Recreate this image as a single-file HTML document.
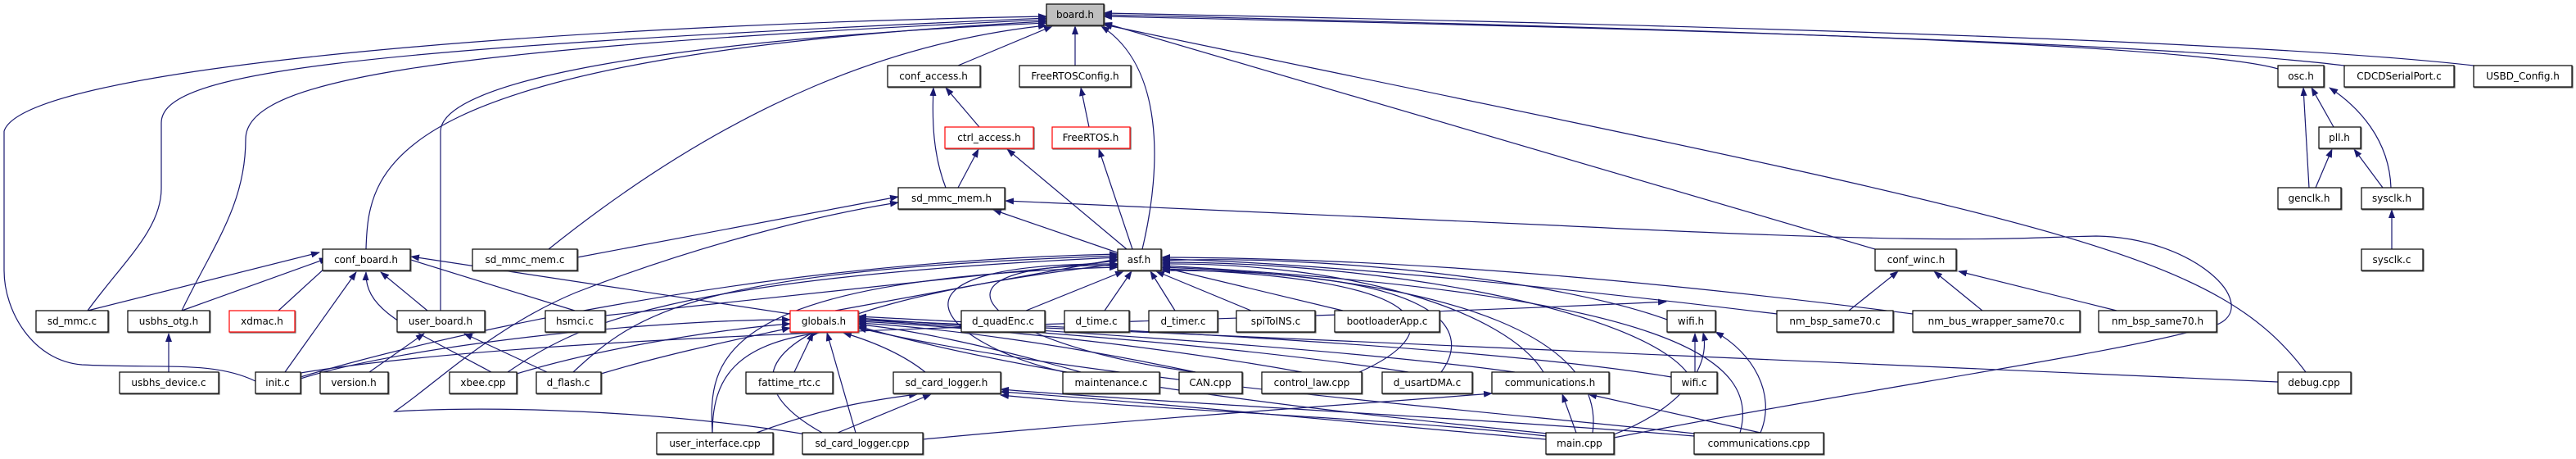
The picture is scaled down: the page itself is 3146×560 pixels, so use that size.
<!DOCTYPE html>
<html><head><meta charset="utf-8"><style>
html,body{margin:0;padding:0;background:#fff;}
svg{display:block}
text{font-family:"DejaVu Sans","Liberation Sans",sans-serif;font-size:12px;fill:#000;text-anchor:middle;dominant-baseline:central}
.e{fill:none;stroke:#191970;stroke-width:1.2}
.b{fill:#fff;stroke:#000;stroke-width:1.2}
.r{fill:#fff;stroke:#f00;stroke-width:1.2}
</style></head><body>
<svg width="3146" height="560" viewBox="0 0 3146 560" xmlns="http://www.w3.org/2000/svg">
<defs>
<marker id="a" markerWidth="11" markerHeight="8" refX="10" refY="4" orient="auto" markerUnits="userSpaceOnUse"><path d="M0,0 L11,4 L0,8 z" fill="#191970"/></marker>
<filter id="s" x="-5%" y="-10%" width="115%" height="130%"><feDropShadow dx="1" dy="1" stdDeviation="0" flood-color="#555" flood-opacity="0.9"/></filter>
</defs>
<g class="e" marker-end="url(#a)">
<path d="M312,465 C260,440 200,450 100,445 C40,440 5,380 5,330 L5,160 C30,80 700,30 1278,20"/>
<path d="M107,379 C150,320 197,280 197,230 L197,150 C197,90 400,60 1278,22"/>
<path d="M222,379 C260,300 300,250 300,170 C300,100 500,60 1278,24"/>
<path d="M447,304 C450,200 470,70 1278,26"/>
<path d="M538,379 L538,160 C540,100 800,50 1278,28"/>
<path d="M670,304 C900,120 1100,50 1278,31"/>
<path d="M1170,80 L1285,32"/>
<path d="M1313,80 L1313,32"/>
<path d="M1395,304 C1420,200 1420,80 1345,32"/>
<path d="M2782,84 C2700,60 2300,40 1348,18"/>
<path d="M2863,80 C2700,60 2300,40 1348,20"/>
<path d="M3021,80 C2800,55 2300,35 1348,16"/>
<path d="M2290,304 L1348,28"/>
<path d="M2816,454 C2700,300 2500,270 1348,30"/>
<path d="M1155,229 C1140,190 1138,150 1140,107"/>
<path d="M1170,229 L1195,182"/>
<path d="M1196,155 L1155,107"/>
<path d="M1330,155 L1320,107"/>
<path d="M1383,304 L1342,182"/>
<path d="M1376,304 L1230,182"/>
<path d="M1370,310 L1213,256"/>
<path d="M705,314 L1097,240"/>
<path d="M985,530 C800,500 600,495 482,502 C530,470 600,400 703,357 C850,300 1000,262 1097,247"/>
<path d="M1971,534 C2300,470 2600,430 2710,395 C2760,370 2680,290 2560,288 C2450,290 2400,300 1900,275 L1228,245"/>
<path d="M1020,379 L1365,316"/>
<path d="M1253,379 L1372,331"/>
<path d="M1349,379 L1382,331"/>
<path d="M1435,379 L1405,331"/>
<path d="M1528,379 L1412,331"/>
<path d="M1640,379 L1419,326"/>
<path d="M2036,390 C1900,340 1600,310 1419,318"/>
<path d="M2170,383 C1900,350 1600,320 1419,316"/>
<path d="M2336,383 C2000,340 1700,315 1419,314"/>
<path d="M2060,454 C2000,380 1700,320 1419,320"/>
<path d="M1885,454 C1840,380 1650,320 1419,322"/>
<path d="M2125,528 C2150,440 2050,360 1419,324"/>
<path d="M1945,528 C1960,420 1800,340 1419,326"/>
<path d="M1660,454 C1760,410 1780,340 1419,328"/>
<path d="M1760,454 C1800,400 1760,330 1419,330"/>
<path d="M1300,454 C1150,420 1050,320 1365,322"/>
<path d="M1460,454 C1200,420 1100,320 1365,324"/>
<path d="M739,385 L1365,318"/>
<path d="M620,454 C700,400 800,340 1365,314"/>
<path d="M700,454 C780,380 850,330 1365,312"/>
<path d="M367,460 C500,420 900,320 1365,310"/>
<path d="M870,528 C865,440 870,340 1365,326"/>
<path d="M1004,528 C900,470 880,380 1365,322"/>
<path d="M367,462 C500,420 800,390 965,390"/>
<path d="M631,456 C750,420 900,400 965,395"/>
<path d="M734,456 C820,430 920,410 965,400"/>
<path d="M970,454 L993,406"/>
<path d="M1130,454 C1100,430 1060,415 1030,406"/>
<path d="M870,528 C870,460 900,420 1000,406"/>
<path d="M1045,528 L1010,406"/>
<path d="M1320,454 C1200,420 1100,400 1048,396"/>
<path d="M1460,454 C1300,420 1150,400 1048,394"/>
<path d="M1590,454 C1400,420 1200,400 1048,392"/>
<path d="M1720,454 C1500,420 1200,400 1048,390"/>
<path d="M1850,454 C1600,420 1200,400 1048,388"/>
<path d="M2041,460 C1800,420 1300,400 1048,386"/>
<path d="M2782,466 L1048,390"/>
<path d="M1900,530 C1700,510 1300,470 1048,398"/>
<path d="M2080,530 C1800,500 1300,460 1048,400"/>
<path d="M965,383 L502,313"/>
<path d="M107,379 L390,308"/>
<path d="M222,379 L400,315"/>
<path d="M340,379 L410,315"/>
<path d="M348,454 L435,332"/>
<path d="M600,454 C500,400 445,380 447,332"/>
<path d="M522,379 L465,332"/>
<path d="M702,379 L492,314"/>
<path d="M206,454 L206,407"/>
<path d="M451,454 L518,407"/>
<path d="M668,454 L567,407"/>
<path d="M367,455 C700,400 1500,395 2035,368"/>
<path d="M2070,454 L2070,407"/>
<path d="M1971,530 C2050,500 2090,450 2080,406"/>
<path d="M2150,528 C2170,480 2140,430 2095,405"/>
<path d="M924,528 C1000,500 1050,490 1120,481"/>
<path d="M1023,528 L1137,481"/>
<path d="M1888,532 C1700,510 1400,500 1222,482"/>
<path d="M1888,536 C1700,520 1400,490 1222,478"/>
<path d="M2069,532 C1800,510 1400,490 1222,475"/>
<path d="M1127,536 C1400,510 1700,490 1822,480"/>
<path d="M1925,528 L1908,481"/>
<path d="M2150,528 L1940,481"/>
<path d="M2258,379 L2318,331"/>
<path d="M2421,379 L2362,331"/>
<path d="M2585,379 L2392,331"/>
<path d="M2820,229 L2813,107"/>
<path d="M2850,155 L2823,107"/>
<path d="M2920,229 C2918,170 2880,130 2845,107"/>
<path d="M2828,229 L2848,182"/>
<path d="M2910,229 L2875,182"/>
<path d="M2921,304 L2921,256"/>
</g>
<g filter="url(#s)">
<rect x="1278" y="5" width="70" height="26" fill="#bfbfbf" stroke="#000" stroke-width="1.2"/>
<rect class="b" x="1084" y="80" width="113" height="26"/>
<rect class="b" x="1245" y="80" width="136" height="26"/>
<rect class="b" x="2782" y="80" width="56" height="26"/>
<rect class="b" x="2863" y="80" width="134" height="26"/>
<rect class="b" x="3021" y="80" width="120" height="26"/>
<rect class="r" x="1154" y="155" width="108" height="26"/>
<rect class="r" x="1285" y="155" width="95" height="26"/>
<rect class="b" x="2832" y="155" width="51" height="26"/>
<rect class="b" x="1097" y="229" width="130" height="26"/>
<rect class="b" x="2782" y="229" width="77" height="26"/>
<rect class="b" x="2884" y="229" width="75" height="26"/>
<rect class="b" x="394" y="304" width="107" height="26"/>
<rect class="b" x="577" y="304" width="128" height="26"/>
<rect class="b" x="1365" y="304" width="53" height="26"/>
<rect class="b" x="2290" y="304" width="99" height="26"/>
<rect class="b" x="2884" y="304" width="75" height="26"/>
<rect class="b" x="44" y="379" width="88" height="26"/>
<rect class="b" x="156" y="379" width="100" height="26"/>
<rect class="r" x="280" y="379" width="80" height="26"/>
<rect class="b" x="485" y="379" width="107" height="26"/>
<rect class="b" x="666" y="379" width="73" height="26"/>
<rect class="r" x="965" y="379" width="83" height="26"/>
<rect class="b" x="1174" y="379" width="102" height="26"/>
<rect class="b" x="1300" y="379" width="79" height="26"/>
<rect class="b" x="1403" y="379" width="84" height="26"/>
<rect class="b" x="1510" y="379" width="96" height="26"/>
<rect class="b" x="1630" y="379" width="128" height="26"/>
<rect class="b" x="2036" y="379" width="59" height="26"/>
<rect class="b" x="2170" y="379" width="142" height="26"/>
<rect class="b" x="2336" y="379" width="204" height="26"/>
<rect class="b" x="2563" y="379" width="144" height="26"/>
<rect class="b" x="146" y="454" width="121" height="26"/>
<rect class="b" x="312" y="454" width="55" height="26"/>
<rect class="b" x="391" y="454" width="83" height="26"/>
<rect class="b" x="549" y="454" width="82" height="26"/>
<rect class="b" x="655" y="454" width="79" height="26"/>
<rect class="b" x="911" y="454" width="106" height="26"/>
<rect class="b" x="1091" y="454" width="131" height="26"/>
<rect class="b" x="1298" y="454" width="118" height="26"/>
<rect class="b" x="1440" y="454" width="77" height="26"/>
<rect class="b" x="1541" y="454" width="122" height="26"/>
<rect class="b" x="1688" y="454" width="110" height="26"/>
<rect class="b" x="1822" y="454" width="143" height="26"/>
<rect class="b" x="2041" y="454" width="56" height="26"/>
<rect class="b" x="2782" y="454" width="89" height="26"/>
<rect class="b" x="802" y="528" width="142" height="26"/>
<rect class="b" x="980" y="528" width="147" height="26"/>
<rect class="b" x="1888" y="528" width="83" height="26"/>
<rect class="b" x="2069" y="528" width="158" height="26"/>
</g>
<g>
<text x="1313" y="18">board.h</text>
<text x="1140" y="93">conf_access.h</text>
<text x="1313" y="93">FreeRTOSConfig.h</text>
<text x="2810" y="93">osc.h</text>
<text x="2930" y="93">CDCDSerialPort.c</text>
<text x="3081" y="93">USBD_Config.h</text>
<text x="1208" y="168">ctrl_access.h</text>
<text x="1332" y="168">FreeRTOS.h</text>
<text x="2857" y="168">pll.h</text>
<text x="1162" y="242">sd_mmc_mem.h</text>
<text x="2820" y="242">genclk.h</text>
<text x="2921" y="242">sysclk.h</text>
<text x="447" y="317">conf_board.h</text>
<text x="641" y="317">sd_mmc_mem.c</text>
<text x="1391" y="317">asf.h</text>
<text x="2340" y="317">conf_winc.h</text>
<text x="2921" y="317">sysclk.c</text>
<text x="88" y="392">sd_mmc.c</text>
<text x="206" y="392">usbhs_otg.h</text>
<text x="320" y="392">xdmac.h</text>
<text x="538" y="392">user_board.h</text>
<text x="702" y="392">hsmci.c</text>
<text x="1006" y="392">globals.h</text>
<text x="1225" y="392">d_quadEnc.c</text>
<text x="1339" y="392">d_time.c</text>
<text x="1445" y="392">d_timer.c</text>
<text x="1558" y="392">spiToINS.c</text>
<text x="1694" y="392">bootloaderApp.c</text>
<text x="2065" y="392">wifi.h</text>
<text x="2241" y="392">nm_bsp_same70.c</text>
<text x="2438" y="392">nm_bus_wrapper_same70.c</text>
<text x="2635" y="392">nm_bsp_same70.h</text>
<text x="206" y="467">usbhs_device.c</text>
<text x="339" y="467">init.c</text>
<text x="432" y="467">version.h</text>
<text x="590" y="467">xbee.cpp</text>
<text x="694" y="467">d_flash.c</text>
<text x="964" y="467">fattime_rtc.c</text>
<text x="1156" y="467">sd_card_logger.h</text>
<text x="1357" y="467">maintenance.c</text>
<text x="1478" y="467">CAN.cpp</text>
<text x="1602" y="467">control_law.cpp</text>
<text x="1743" y="467">d_usartDMA.c</text>
<text x="1893" y="467">communications.h</text>
<text x="2069" y="467">wifi.c</text>
<text x="2826" y="467">debug.cpp</text>
<text x="873" y="541">user_interface.cpp</text>
<text x="1053" y="541">sd_card_logger.cpp</text>
<text x="1929" y="541">main.cpp</text>
<text x="2148" y="541">communications.cpp</text>
</g>
</svg>
</body></html>
